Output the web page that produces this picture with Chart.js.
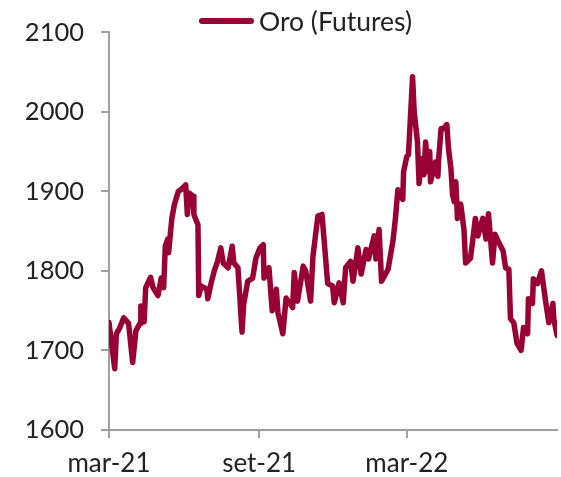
<!DOCTYPE html>
<html>
<head>
<meta charset="utf-8">
<script src="https://cdn.jsdelivr.net/npm/chart.js@4"></script>
<style>
  html, body { margin: 0; padding: 0; background: #fff; }
  #wrap { position: relative; width: 561px; height: 477px; }
  #legend { position: absolute; left: 199px; top: 5px; font-family: Lato, sans-serif; font-size: 26.5px; color: #222; display: flex; align-items: center; white-space: nowrap; }
  #legend .swatch { display: inline-block; width: 55px; height: 6px; border-radius: 3px; background: #990033; margin-right: 5px; }
</style>
</head>
<body>
<div id="wrap">
  <canvas id="myChart" width="561" height="477"></canvas>
  <div id="legend"><span class="swatch"></span><span>Oro (Futures)</span></div>
</div>
<script>
// giorni trascorsi dal 1 marzo 2021
var days = [0, 7, 9, 13, 18, 24, 29, 33, 38, 39, 43, 45, 51, 54, 60, 64, 67, 69, 72, 73,
  77, 80, 85, 88, 94, 96, 98, 103, 104, 109, 110, 113, 120, 121, 125, 129, 133, 137, 140, 146,
  151, 153, 158, 163, 165, 170, 176, 180, 185, 189, 190, 196, 200, 205, 207, 213, 217, 225, 227, 231,
  238, 241, 247, 250, 256, 261, 268, 274, 276, 282, 287, 290, 296, 299, 305, 309, 315, 318, 325, 327,
  331, 334, 342, 348, 351, 354, 356, 360, 361, 365, 367, 372, 374, 378, 380, 383, 386, 388, 391, 393,
  394, 400, 403, 404, 407, 410, 414, 416, 419, 421, 423, 425, 427, 431, 435, 437, 443, 446, 449, 452,
  458, 462, 465, 470, 473, 478, 483, 486, 490, 492, 496, 500, 505, 508, 513, 514, 519, 520, 525, 530,
  535, 539, 544, 545, 549];
// prezzo oro futures (USD/oz)
var prices = [1735, 1677, 1721, 1728, 1741, 1734, 1685, 1725, 1734, 1756, 1736, 1779, 1792, 1779, 1769, 1791, 1779, 1831, 1840, 1823,
  1866, 1883, 1900, 1902, 1908, 1871, 1898, 1894, 1871, 1858, 1769, 1781, 1777, 1765, 1784, 1800, 1812, 1829, 1810, 1804,
  1831, 1810, 1804, 1723, 1758, 1787, 1791, 1816, 1829, 1833, 1791, 1804, 1750, 1777, 1748, 1721, 1766, 1754, 1798, 1762,
  1806, 1800, 1762, 1819, 1869, 1871, 1784, 1781, 1760, 1785, 1760, 1804, 1812, 1787, 1829, 1796, 1827, 1815, 1844, 1815,
  1852, 1787, 1802, 1838, 1866, 1902, 1900, 1890, 1925, 1944, 1946, 2044, 2000, 1962, 1910, 1941, 1921, 1962, 1925, 1950,
  1912, 1937, 1919, 1941, 1979, 1979, 1984, 1954, 1929, 1896, 1887, 1912, 1866, 1884, 1852, 1810, 1816, 1841, 1866, 1844,
  1866, 1840, 1872, 1810, 1846, 1835, 1825, 1804, 1802, 1740, 1735, 1709, 1700, 1729, 1721, 1765, 1759, 1790, 1784, 1800,
  1762, 1735, 1759, 1740, 1719];
var tickDays = [0, 184, 365];
var tickLabels = ['mar-21', 'set-21', 'mar-22'];
var yTicks = [1600, 1700, 1800, 1900, 2000, 2100];

var points = days.map(function (d, i) { return { x: d, y: prices[i] }; });

var ctx = document.getElementById('myChart');
var myChart = new Chart(ctx, {
  type: 'line',
  data: {
    datasets: [{
      label: 'Oro (Futures)',
      data: points,
      borderColor: '#990033',
      borderWidth: 5.5,
      pointRadius: 0,
      tension: 0,
      borderJoinStyle: 'round',
      borderCapStyle: 'round'
    }]
  },
  options: {
    responsive: false,
    animation: false,
    layout: { padding: { top: 30, right: 4, left: 0, bottom: 0 } },
    plugins: { legend: { display: false }, tooltip: { enabled: false } },
    scales: {
      x: {
        type: 'linear',
        min: 0,
        max: 549,
        afterBuildTicks: function (axis) {
          axis.ticks = tickDays.map(function (v) { return { value: v }; });
        },
        afterFit: function (axis) { axis.height = 47; },
        ticks: {
          autoSkip: false,
          maxRotation: 0,
          padding: 10,
          color: '#222',
          font: { family: 'Lato', size: 26 },
          callback: function (value) {
            var i = tickDays.indexOf(value);
            return i >= 0 ? tickLabels[i] : '';
          }
        },
        grid: { drawOnChartArea: false, tickLength: 8, color: '#a0a0a0', lineWidth: 2 },
        border: { color: '#a0a0a0', width: 2 }
      },
      y: {
        min: 1600,
        max: 2100,
        afterBuildTicks: function (axis) {
          axis.ticks = yTicks.map(function (v) { return { value: v }; });
        },
        afterFit: function (axis) { axis.width = 109; },
        ticks: {
          padding: 17,
          color: '#222',
          font: { family: 'Lato', size: 25.5 },
          callback: function (value) { return String(value); }
        },
        grid: { drawOnChartArea: false, tickLength: 8, color: '#a0a0a0', lineWidth: 2 },
        border: { color: '#a0a0a0', width: 2 }
      }
    }
  }
});
</script>
</body>
</html>
